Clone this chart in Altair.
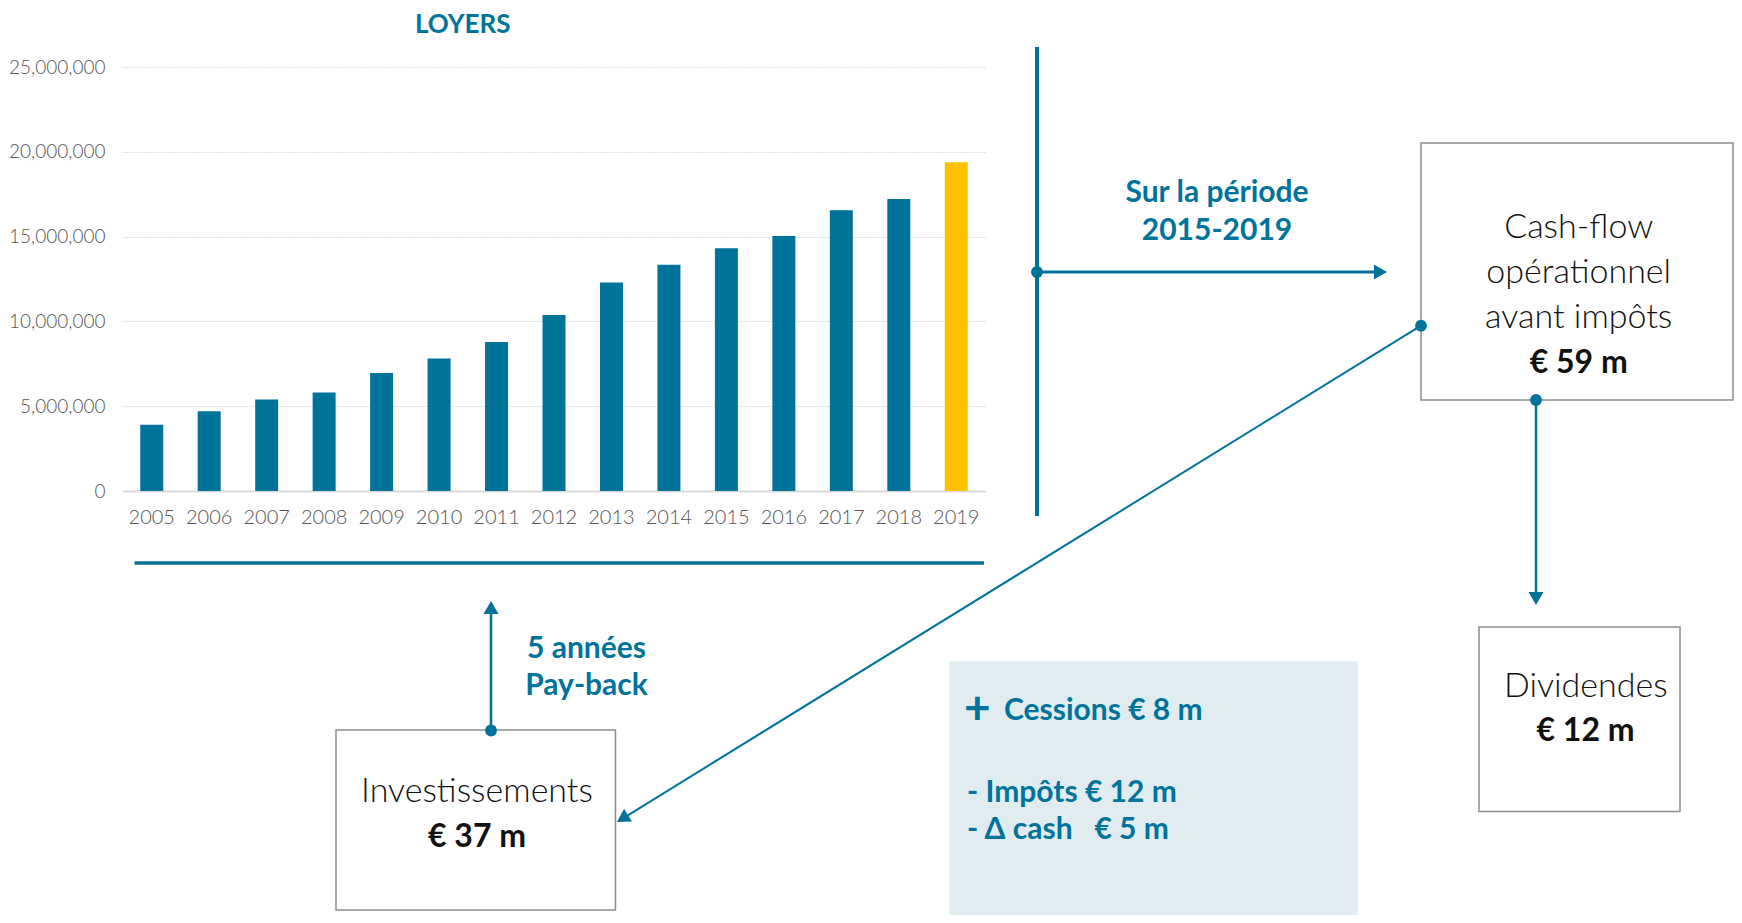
import altair as alt
import pandas as pd

# ---------------- data ----------------
years = [str(y) for y in range(2005, 2020)]
loyers = [3.91e6, 4.70e6, 5.40e6, 5.81e6, 6.96e6, 7.81e6, 8.79e6, 10.38e6,
          12.29e6, 13.34e6, 14.31e6, 15.04e6, 16.56e6, 17.21e6, 19.39e6]
y_ticks = [0, 5_000_000, 10_000_000, 15_000_000, 20_000_000, 25_000_000]
highlight_year = "2019"
chart_title = "LOYERS"

period_label = ["Sur la période", "2015-2019"]
payback_label = ["5 années", "Pay-back"]
cashflow_label = ["Cash-flow", "opérationnel", "avant impôts"]
cashflow_value = "€ 59 m"
dividend_label = "Dividendes"
dividend_value = "€ 12 m"
invest_label = "Investissements"
invest_value = "€ 37 m"
plus_sign = "+"
other_flows = ["Cessions € 8 m", "- Impôts € 12 m", "- Δ cash\u00a0\u00a0 € 5 m"]

# ---------------- style / layout ----------------
TEAL = "#00739B"
YELLOW = "#FFC000"
BOX_STROKE = "#8c8c8c"
LIGHT_BLUE = "#E1ECF0"
FONT = "Lato"

OX, OY = 123, 67          # page position of plot origin
W, H = 862, 424           # plot area
TOTAL_W, TOTAL_H = 1726, 907
PAD = {"left": OX - 8, "top": OY - 8,
       "right": TOTAL_W - (OX - 8) - W, "bottom": TOTAL_H - (OY - 8) - H}


def gx(x):
    return x - OX


def gy(y):
    return y - OY


# ---------------- bar chart ----------------
bars_df = pd.DataFrame({"year": years, "loyers": loyers})
bars = alt.Chart(bars_df).mark_bar().encode(
    x=alt.X("year:N", sort=years, title=None,
            scale=alt.Scale(paddingInner=0.6, paddingOuter=0.3),
            axis=alt.Axis(labelAngle=0, ticks=False, domain=True,
                          domainColor="#d9d9d9", domainWidth=2,
                          labelPadding=16, labelFontSize=20, labelFont=FONT,
                          labelFontWeight=300, labelColor="#555555", grid=False)),
    y=alt.Y("loyers:Q", title=None,
            scale=alt.Scale(domain=[0, 25_000_000], nice=False),
            axis=alt.Axis(values=y_ticks, format=",d", ticks=False, domain=False,
                          grid=True, gridColor="#bcbcbc", gridDash=[1, 2],
                          gridWidth=1, labelPadding=18, labelFontSize=19,
                          labelFont=FONT, labelFontWeight=300,
                          labelColor="#555555")),
    color=alt.condition(alt.datum.year == highlight_year,
                        alt.value(YELLOW), alt.value(TEAL)),
)

# ---------------- diagram ----------------
box_df = pd.DataFrame([
    # light blue panel
    dict(x=gx(950), x2=gx(1357), y=gy(662), y2=gy(960), fill=LIGHT_BLUE, stroke=LIGHT_BLUE),
    # cash-flow box
    dict(x=gx(1421), x2=gx(1733), y=gy(143), y2=gy(400), fill="white", stroke=BOX_STROKE),
    # dividendes box
    dict(x=gx(1479), x2=gx(1680), y=gy(627), y2=gy(811.5), fill="white", stroke=BOX_STROKE),
    # investissements box
    dict(x=gx(336), x2=gx(615.5), y=gy(730), y2=gy(910), fill="white", stroke=BOX_STROKE),
])
boxes = alt.Chart(box_df).mark_rect(strokeWidth=1.5).encode(
    x=alt.X("x:Q", scale=None, axis=None), x2="x2:Q",
    y=alt.Y("y:Q", scale=None, axis=None), y2="y2:Q",
    fill=alt.Fill("fill:N", scale=None, legend=None),
    stroke=alt.Stroke("stroke:N", scale=None, legend=None),
)

rule_df = pd.DataFrame([
    dict(x=gx(134.5), y=gy(563), x2=gx(984), y2=gy(563), w=3.5),
    dict(x=gx(1037), y=gy(47), x2=gx(1037), y2=gy(516), w=4),
    dict(x=gx(1037), y=gy(272), x2=gx(1381), y2=gy(272), w=3),
    dict(x=gx(1421), y=gy(325.7), x2=gx(623), y2=gy(818.3), w=2),
    dict(x=gx(1536), y=gy(400), x2=gx(1536), y2=gy(599), w=2.5),
    dict(x=gx(491), y=gy(730), x2=gx(491), y2=gy(607), w=2.5),
])
rules = alt.Chart(rule_df).mark_rule(color=TEAL).encode(
    x=alt.X("x:Q", scale=None, axis=None), x2="x2:Q",
    y=alt.Y("y:Q", scale=None, axis=None), y2="y2:Q",
    strokeWidth=alt.StrokeWidth("w:Q", scale=None, legend=None),
)

dot_df = pd.DataFrame([
    dict(x=gx(1037), y=gy(272)),
    dict(x=gx(1421), y=gy(325.7)),
    dict(x=gx(1536), y=gy(400)),
    dict(x=gx(491), y=gy(730.5)),
])
dots = alt.Chart(dot_df).mark_point(filled=True, shape="circle", size=140,
                                    color=TEAL, opacity=1).encode(
    x=alt.X("x:Q", scale=None, axis=None),
    y=alt.Y("y:Q", scale=None, axis=None),
)

head_df = pd.DataFrame([
    dict(x=gx(1380.5), y=gy(272), a=90),
    dict(x=gx(1536), y=gy(598.5), a=180),
    dict(x=gx(491), y=gy(607.5), a=0),
    dict(x=gx(622.5), y=gy(818.6), a=238.3),
])
heads = alt.Chart(head_df).mark_point(filled=True, shape="triangle-up", size=225,
                                      color=TEAL, opacity=1).encode(
    x=alt.X("x:Q", scale=None, axis=None),
    y=alt.Y("y:Q", scale=None, axis=None),
    angle=alt.Angle("a:Q", scale=None, legend=None),
)


def text_layer(rows, **mark):
    df = pd.DataFrame(rows)
    return alt.Chart(df).mark_text(baseline="alphabetic", font=FONT, **mark).encode(
        x=alt.X("x:Q", scale=None, axis=None),
        y=alt.Y("y:Q", scale=None, axis=None),
        text="t:N",
    )


title_text = text_layer([
    dict(t=chart_title, x=gx(462.7), y=gy(33)),
], align="center", fontSize=26, fontWeight="bold", color=TEAL)

teal_center = text_layer([
    dict(t=period_label[0], x=gx(1217), y=gy(201.7)),
    dict(t=period_label[1], x=gx(1217), y=gy(240)),
    dict(t=payback_label[0], x=gx(586.5), y=gy(658)),
    dict(t=payback_label[1], x=gx(586.5), y=gy(695)),
], align="center", fontSize=30, fontWeight="bold", color=TEAL)

teal_left = text_layer([
    dict(t=other_flows[0], x=gx(1004), y=gy(720)),
    dict(t=other_flows[1], x=gx(967), y=gy(801.7)),
    dict(t=other_flows[2], x=gx(967), y=gy(839)),
], align="left", fontSize=30, fontWeight="bold", color=TEAL)

plus = text_layer([
    dict(t=plus_sign, x=gx(964), y=gy(724)),
], align="left", fontSize=46, fontWeight="bold", color=TEAL)

light_black = text_layer([
    dict(t=cashflow_label[0], x=gx(1578.7), y=gy(238)),
    dict(t=cashflow_label[1], x=gx(1578.7), y=gy(283.3)),
    dict(t=cashflow_label[2], x=gx(1578.7), y=gy(328)),
    dict(t=dividend_label, x=gx(1585.8), y=gy(697.3)),
    dict(t=invest_label, x=gx(477), y=gy(802.3)),
], align="center", fontSize=34, fontWeight=300, color="#111111")

bold_black = text_layer([
    dict(t=cashflow_value, x=gx(1578.7), y=gy(372.7)),
    dict(t=dividend_value, x=gx(1585.5), y=gy(741)),
    dict(t=invest_value, x=gx(477), y=gy(847.3)),
], align="center", fontSize=32, fontWeight="bold", color="#111111")

chart = alt.layer(
    bars, boxes, rules, dots, heads, title_text, teal_center, teal_left, plus,
    light_black, bold_black,
).resolve_scale(
    x="independent", y="independent"
).properties(
    width=W, height=H, padding=PAD,
    autosize=alt.AutoSizeParams(type="none"),
).configure(background="white").configure_view(stroke=None)

chart.save("out.html", embed_options={"renderer": "svg", "actions": False})
